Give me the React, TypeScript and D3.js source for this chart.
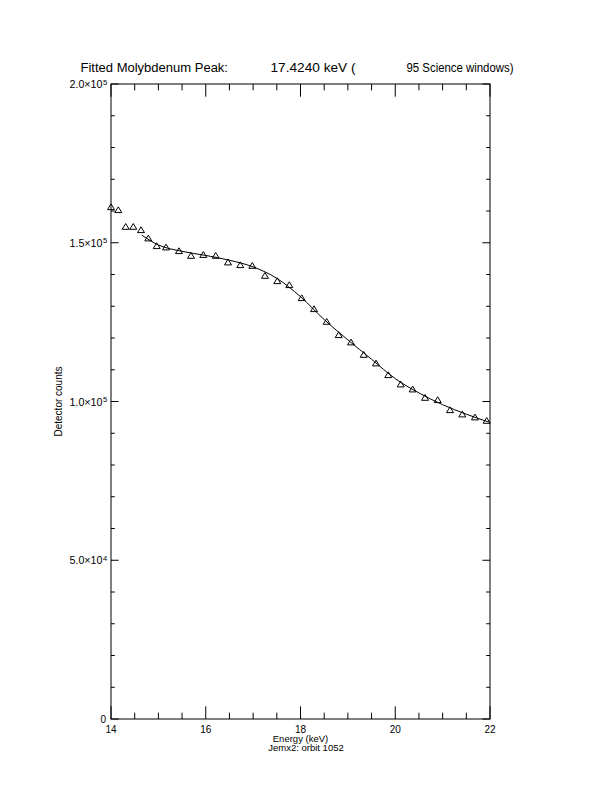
import React from "react";
import * as d3 from "d3";

const energies = [14.0, 14.154, 14.31, 14.47, 14.633, 14.787, 14.965, 15.161, 15.435, 15.689, 15.948, 16.21, 16.47, 16.729, 16.983, 17.25, 17.51, 17.764, 18.025, 18.285, 18.553, 18.806, 19.066, 19.334, 19.594, 19.853, 20.115, 20.368, 20.628, 20.896, 21.156, 21.415, 21.683, 21.93];
const counts = [161260, 160315, 155055, 155055, 154015, 151400, 148976, 148566, 147402, 145920, 146200, 145920, 143840, 142990, 142770, 139620, 137950, 136690, 132600, 129135, 125135, 120945, 118650, 114740, 112030, 108346, 105415, 103840, 101196, 100470, 97322, 95968, 95023, 93952];

const fitEnergies = [14.65, 15.0, 15.5, 16.0, 16.5, 17.0, 17.5, 18.0, 18.5, 19.0, 19.5, 20.0, 20.5, 21.0, 21.5, 22.0];
const fitCounts = [152400, 149300, 147300, 146000, 144500, 142400, 138800, 133000, 125800, 119400, 113300, 107200, 102700, 99000, 96000, 93400];

const xMajorTicks = [14, 16, 18, 20, 22];
const xMajorLabels = ["14", "16", "18", "20", "22"];
const yMajorTicks = [0, 50000, 100000, 150000, 200000];
const yMajorLabels: [string, string][] = [["0", ""], ["5.0×10", "4"], ["1.0×10", "5"], ["1.5×10", "5"], ["2.0×10", "5"]];

const titleParts = ["Fitted Molybdenum Peak:", "17.4240 keV (", "95 Science windows)"];
const xTitle = "Energy (keV)";
const subTitle = "Jemx2: orbit 1052";
const yTitle = "Detector counts";

const L = 111, R = 490, T = 84, B = 719;
const FONT = "'Liberation Sans', 'DejaVu Sans', sans-serif";

export default function App() {
  const x = d3.scaleLinear().domain([14, 22]).range([L, R]);
  const y = d3.scaleLinear().domain([0, 200000]).range([B, T]);

  const xMinor = d3.range(14, 22.001, 0.5).filter((v) => !xMajorTicks.some((m) => Math.abs(m - v) < 1e-6));
  const yMinor = d3.range(0, 200001, 10000).filter((v) => !yMajorTicks.some((m) => Math.abs(m - v) < 1e-6));

  const xMajLen = 12.7, xMinLen = 6.35, yMajLen = 7.6, yMinLen = 3.8;

  const line = d3
    .line<number>()
    .x((_, i) => x(fitEnergies[i]))
    .y((d) => y(d))
    .curve(d3.curveMonotoneX);

  const tri = (cx: number, cy: number) =>
    `M${cx - 3.5},${cy + 2.6} L${cx + 3.5},${cy + 2.6} L${cx},${cy - 3.2} Z`;

  return (
    <div style={{ position: "absolute", left: 0, top: 0 }}>
      <svg width={612} height={792} style={{ display: "block", background: "#fff" }}>
        <rect x={0} y={0} width={612} height={792} fill="#fff" />
        {/* title */}
        <g fontFamily={FONT} fontSize={12.5} fill="#000">
          <text x={80.5} y={72} textLength={147.5} lengthAdjust="spacingAndGlyphs">{titleParts[0]}</text>
          <text x={270.5} y={72} textLength={85} lengthAdjust="spacingAndGlyphs">{titleParts[1]}</text>
          <text x={406.5} y={72} textLength={107} lengthAdjust="spacingAndGlyphs">{titleParts[2]}</text>
        </g>
        {/* frame */}
        <rect x={L} y={T} width={R - L} height={B - T} fill="none" stroke="#000" strokeWidth={1} />
        {/* ticks */}
        <g stroke="#000" strokeWidth={1}>
          {xMajorTicks.map((v) => (
            <g key={"xm" + v}>
              <line x1={x(v)} x2={x(v)} y1={B} y2={B - xMajLen} />
              <line x1={x(v)} x2={x(v)} y1={T} y2={T + xMajLen} />
            </g>
          ))}
          {xMinor.map((v) => (
            <g key={"xn" + v}>
              <line x1={x(v)} x2={x(v)} y1={B} y2={B - xMinLen} />
              <line x1={x(v)} x2={x(v)} y1={T} y2={T + xMinLen} />
            </g>
          ))}
          {yMajorTicks.map((v) => (
            <g key={"ym" + v}>
              <line x1={L} x2={L + yMajLen} y1={y(v)} y2={y(v)} />
              <line x1={R} x2={R - yMajLen} y1={y(v)} y2={y(v)} />
            </g>
          ))}
          {yMinor.map((v) => (
            <g key={"yn" + v}>
              <line x1={L} x2={L + yMinLen} y1={y(v)} y2={y(v)} />
              <line x1={R} x2={R - yMinLen} y1={y(v)} y2={y(v)} />
            </g>
          ))}
        </g>
        {/* tick labels */}
        <g fontFamily={FONT} fontSize={10} fill="#000">
          {xMajorTicks.map((v, i) => (
            <text key={"xl" + v} x={x(v)} y={732.5} textAnchor="middle">{xMajorLabels[i]}</text>
          ))}
          {yMajorTicks.map((v, i) =>
            yMajorLabels[i][1] ? (
              <g key={"yl" + v}>
                <text x={69.5} y={y(v) + 4} textLength={33} lengthAdjust="spacingAndGlyphs">
                  {yMajorLabels[i][0]}
                </text>
                <text x={103} y={y(v) + 0.5} fontSize={7.5}>{yMajorLabels[i][1]}</text>
              </g>
            ) : (
              <text key={"yl" + v} x={106} y={y(v) + 4} textAnchor="end">{yMajorLabels[i][0]}</text>
            )
          )}
          <text x={(L + R) / 2} y={742} fontSize={9.5} textAnchor="middle">{xTitle}</text>
          <text x={(L + R) / 2 + 5.5} y={751} fontSize={9.5} textAnchor="middle">{subTitle}</text>
          <text transform={`translate(62,${(T + B) / 2}) rotate(-90)`} textAnchor="middle">{yTitle}</text>
        </g>
        {/* fit line */}
        <path d={line(fitCounts) || ""} fill="none" stroke="#000" strokeWidth={1} />
        {/* data points */}
        <g fill="none" stroke="#000" strokeWidth={1}>
          {counts.map((c, i) => (
            <path key={"p" + i} d={tri(x(energies[i]), y(c))} />
          ))}
        </g>
      </svg>
    </div>
  );
}
